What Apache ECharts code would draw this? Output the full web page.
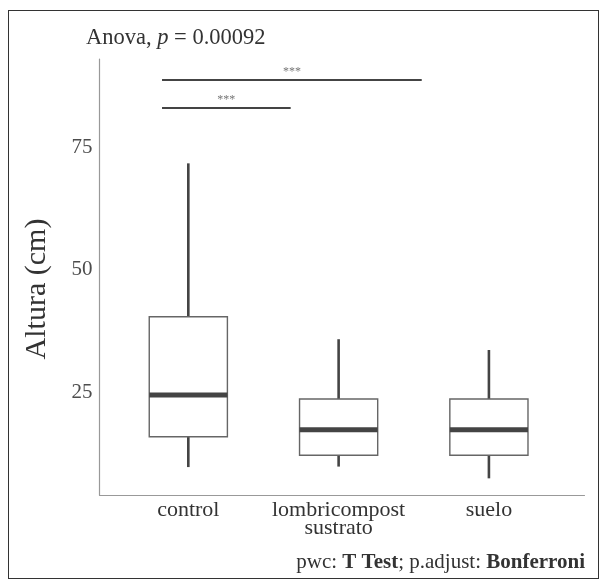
<!DOCTYPE html>
<html>
<head>
<meta charset="utf-8">
<script src="https://cdn.jsdelivr.net/npm/echarts@6/dist/echarts.min.js"></script>
<style>
html,body{margin:0;padding:0;background:#fff;}
#frame{position:absolute;left:8px;top:10px;width:591px;height:569px;border:1px solid #333;box-sizing:border-box;}
#chart{position:absolute;left:0;top:0;width:608px;height:588px;}
</style>
</head>
<body>
<div id="frame"></div>
<div id="chart"></div>
<script>
// ---- data ----
const categories = ['control', 'lombricompost\nsustrato', 'suelo'];
const positions = [1, 2, 3];
const whiskerLow = [9.7, 9.8, 7.4];
const q1 = [15.9, 12.1, 12.1];
const median = [24.4, 17.3, 17.3];
const q3 = [40.4, 23.6, 23.6];
const whiskerHigh = [71.7, 35.8, 33.6];
const yTicks = [25, 50, 75];
// significance brackets
const bracketStart = [0.825, 0.825];
const bracketEnd = [2.553, 1.681];
const bracketY = [88.7, 83.0];
const bracketLabel = ['***', '***'];

const boxData = positions.map((p, i) => [p, whiskerLow[i], q1[i], median[i], q3[i], whiskerHigh[i]]);
const bracketData = bracketStart.map((s, i) => [s, bracketEnd[i], bracketY[i]]);

const FONT = '"Liberation Serif", "Times New Roman", serif';
const chart = echarts.init(document.getElementById('chart'), null, {renderer: 'canvas'});

const BOX_HALF = 0.26;

chart.setOption({
  animation: false,
  backgroundColor: 'transparent',
  title: [{
    text: 'Anova, {i|p} = 0.00092',
    left: 86, top: 27, padding: 0,
    textStyle: {
      fontFamily: FONT, fontSize: 22.5, fontWeight: 'normal', color: '#333',
      rich: {i: {fontFamily: FONT, fontSize: 22.5, fontStyle: 'italic', color: '#333'}}
    }
  }, {
    text: 'pwc: {b|T Test}; p.adjust: {b|Bonferroni}',
    right: 23, top: 552, padding: 0,
    textStyle: {
      fontFamily: FONT, fontSize: 21, fontWeight: 'normal', color: '#333',
      rich: {b: {fontFamily: FONT, fontSize: 21, fontWeight: 'bold', color: '#333'}}
    }
  }],
  graphic: [{
    type: 'text', x: 37, y: 289, rotation: Math.PI / 2,
    style: {text: 'Altura (cm)', font: '30px ' + FONT, fill: '#333', align: 'center', verticalAlign: 'middle'}
  }],
  grid: {left: 99.5, right: 23.5, top: 59, bottom: 93, containLabel: false},
  xAxis: {
    type: 'value', min: 0.409, max: 3.636,
    splitLine: {show: false},
    axisLine: {show: true, onZero: false, lineStyle: {color: '#999', width: 1.2}},
    axisTick: {show: false},
    axisLabel: {
      customValues: positions,
      margin: 6,
      fontFamily: FONT, fontSize: 22, color: '#333', lineHeight: 18,
      formatter: v => categories[positions.indexOf(Math.round(v))] || ''
    }
  },
  yAxis: {
    type: 'value', min: 4, max: 93,
    splitLine: {show: false},
    axisLine: {show: true, lineStyle: {color: '#999', width: 1.2}},
    axisTick: {show: false},
    axisLabel: {customValues: yTicks, margin: 7, fontFamily: FONT, fontSize: 21, color: '#4d4d4d'}
  },
  series: [{
    type: 'custom',
    data: boxData,
    encode: {x: 0, y: [1, 2, 3, 4, 5]},
    renderItem: function (params, api) {
      const x = api.value(0);
      const pLow = api.coord([x, api.value(1)]);
      const pQ1 = api.coord([x, api.value(2)]);
      const pMed = api.coord([x, api.value(3)]);
      const pQ3 = api.coord([x, api.value(4)]);
      const pHigh = api.coord([x, api.value(5)]);
      const left = api.coord([x - BOX_HALF, 0])[0];
      const right = api.coord([x + BOX_HALF, 0])[0];
      return {
        type: 'group',
        children: [
          {type: 'line', shape: {x1: pHigh[0], y1: pHigh[1], x2: pQ3[0], y2: pQ3[1]}, style: {stroke: '#444', lineWidth: 2.6}},
          {type: 'line', shape: {x1: pQ1[0], y1: pQ1[1], x2: pLow[0], y2: pLow[1]}, style: {stroke: '#444', lineWidth: 2.6}},
          {type: 'rect', shape: {x: left, y: pQ3[1], width: right - left, height: pQ1[1] - pQ3[1]}, style: {fill: '#fff', stroke: '#666', lineWidth: 1.4}},
          {type: 'line', shape: {x1: left, y1: pMed[1], x2: right, y2: pMed[1]}, style: {stroke: '#444', lineWidth: 5}}
        ]
      };
    }
  }, {
    type: 'custom',
    data: bracketData,
    encode: {x: [0, 1], y: 2},
    renderItem: function (params, api) {
      const a = api.coord([api.value(0), api.value(2)]);
      const b = api.coord([api.value(1), api.value(2)]);
      return {
        type: 'group',
        children: [
          {type: 'line', shape: {x1: a[0], y1: a[1], x2: b[0], y2: b[1]}, style: {stroke: '#444', lineWidth: 2}},
          {type: 'text', x: (a[0] + b[0]) / 2, y: a[1] - 2, style: {text: bracketLabel[params.dataIndex], fill: '#777', font: '12px ' + FONT, align: 'center', verticalAlign: 'bottom'}}
        ]
      };
    }
  }]
});
</script>
</body>
</html>
